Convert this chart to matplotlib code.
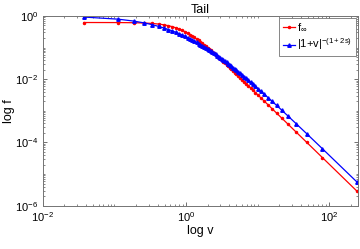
import matplotlib
matplotlib.use('Agg')
import matplotlib.pyplot as plt
from matplotlib.ticker import LogLocator, NullFormatter

plt.rcParams['font.family'] = ['Liberation Sans', 'DejaVu Sans']
plt.rcParams['mathtext.fontset'] = 'custom'
plt.rcParams['mathtext.rm'] = 'Liberation Sans'
plt.rcParams['mathtext.it'] = 'Liberation Sans'

# velocity grid
v = [0.0374, 0.1123, 0.1872, 0.2625, 0.338, 0.414, 0.4905, 0.5676, 0.6455,
     0.7242, 0.8038, 0.8846, 0.9665, 1.05, 1.134, 1.221, 1.309, 1.399,
     1.491, 1.586, 1.683, 1.782, 1.885, 1.991, 2.101, 2.214, 2.332, 2.454,
     2.582, 2.715, 2.854, 3.0, 3.153, 3.315, 3.486, 3.667, 3.86, 4.065,
     4.284, 4.52, 4.774, 5.05, 5.349, 5.676, 6.036, 6.434, 6.876, 7.372,
     7.933, 8.574, 9.312, 10.17, 11.2, 12.43, 13.94, 15.86, 18.35, 21.74,
     26.63, 34.29, 48.07, 80.18, 240.6]

# f_infinity
f_inf = [0.6198, 0.6171, 0.6098, 0.5969, 0.578, 0.5535, 0.5241, 0.4911,
         0.4559, 0.4199, 0.384, 0.3494, 0.3165, 0.2859, 0.2577, 0.232,
         0.2086, 0.1876, 0.1687, 0.1517, 0.1365, 0.1228, 0.1106, 0.09963,
         0.0898, 0.08096, 0.07301, 0.06585, 0.0594, 0.05357, 0.04829,
         0.04352, 0.0392, 0.03527, 0.0317, 0.02846, 0.02552, 0.02283,
         0.02039, 0.01816, 0.01614, 0.01429, 0.01261, 0.01108, 0.009694,
         0.008434, 0.007293, 0.006262, 0.005333, 0.004499, 0.003754,
         0.003091, 0.002505, 0.001992, 0.001547, 0.001166, 0.000846,
         0.0005827, 0.0003731, 0.0002138, 0.0001017, 3.301e-05, 2.941e-06]

# |1+v|^-(1+2s)
f_tail = [0.922, 0.791, 0.686, 0.599, 0.527, 0.467, 0.416, 0.372, 0.334,
          0.302, 0.273, 0.248, 0.226, 0.206, 0.189, 0.173, 0.159, 0.146,
          0.134, 0.124, 0.114, 0.105, 0.0972, 0.0898, 0.0829, 0.0766,
          0.0708, 0.0654, 0.0604, 0.0557, 0.0514, 0.0474, 0.0436, 0.0401,
          0.0368, 0.0337, 0.0309, 0.0282, 0.0257, 0.0233, 0.0211, 0.0191,
          0.0171, 0.0153, 0.0137, 0.0121, 0.0107, 0.00933, 0.00809,
          0.00694, 0.0059, 0.00494, 0.00408, 0.0033, 0.00261, 0.002,
          0.00148, 0.00104, 0.000675, 0.000394, 0.000191, 6.3e-05, 5.72e-06]

fig = plt.figure(figsize=(3.6, 2.49), dpi=100)
ax = fig.add_axes([0.119, 0.174, 0.875, 0.762])

ax.loglog(v, f_inf, '.-', color='#ff0000', ms=3, lw=0.9, label=r'f$_{\infty}$')
ax.loglog(v, f_tail, '^-', color='#0000ff', ms=2.5, lw=0.9,
          label=r'$|$1+v$|^{\mathregular{-(1+2s)}}$')

ax.set_xlim(1e-2, 250)
ax.set_ylim(1e-6, 1)
ax.set_xticks([1e-2, 1e0, 1e2])
ax.set_yticks([1e-6, 1e-4, 1e-2, 1e0])
ax.xaxis.set_minor_locator(LogLocator(base=10, subs=range(1, 10), numticks=20))
ax.yaxis.set_minor_locator(LogLocator(base=10, subs=range(1, 10), numticks=20))
ax.xaxis.set_minor_formatter(NullFormatter())
ax.yaxis.set_minor_formatter(NullFormatter())
ax.tick_params(which='both', direction='in', top=True, right=True,
               color='0.35', labelsize=8, labelcolor='black')
ax.tick_params(which='major', length=3, width=0.6)
ax.tick_params(which='minor', length=1.6, width=0.5)
ax.tick_params(axis='x', pad=3)
for sp in ax.spines.values():
    sp.set_color('0.45')
    sp.set_linewidth(0.7)

ax.set_title('Tail', fontsize=9, pad=2)
ax.set_xlabel('log v', fontsize=9, labelpad=1)
ax.set_ylabel('log f', fontsize=9, labelpad=0)

leg = ax.legend(loc='upper right', fontsize=8, handlelength=1.1,
                handletextpad=0.2, borderpad=0.3, labelspacing=0.3,
                borderaxespad=0.2, fancybox=False, framealpha=1)
leg.get_frame().set_edgecolor('0.45')
leg.get_frame().set_linewidth(0.6)

fig.savefig('out.png', dpi=100)
